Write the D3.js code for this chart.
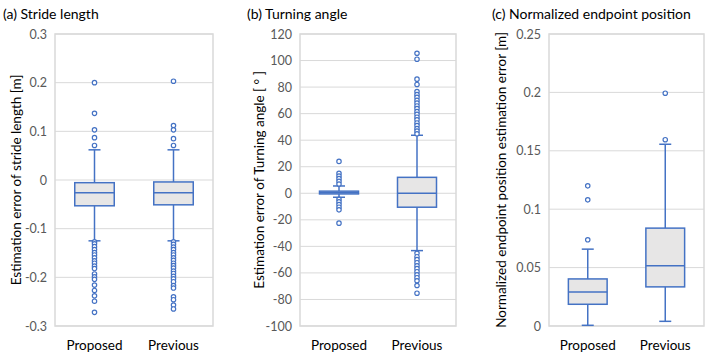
<!DOCTYPE html>
<html><head><meta charset="utf-8">
<script src="https://cdn.jsdelivr.net/npm/d3@7"></script>
<style>body{margin:0;background:#fff}svg{display:block;font-family:Lato,"Open Sans",sans-serif}</style>
</head><body><svg id="c" width="708" height="359"></svg>
<script>
const categories = ["Proposed", "Previous"];

// Panel (a) stride length [m]: [whiskerLow, q1, median, q3, whiskerHigh]
const strideStats = [[-0.125, -0.053, -0.026, -0.0055, 0.062], [-0.125, -0.051, -0.026, -0.004, 0.062]];
const strideOutProposed = [0.2, 0.137, 0.103, 0.087, 0.071, -0.127, -0.131, -0.137, -0.143, -0.149, -0.154, -0.160, -0.166, -0.171, -0.177, -0.182, -0.193, -0.199, -0.204, -0.216, -0.227, -0.238, -0.249, -0.272];
const strideOutPrevious = [0.203, 0.112, 0.103, 0.085, 0.071, -0.127, -0.132, -0.138, -0.143, -0.149, -0.154, -0.160, -0.165, -0.171, -0.176, -0.181, -0.187, -0.192, -0.198, -0.203, -0.209, -0.217, -0.222, -0.240, -0.246, -0.257, -0.265];
const strideTicks = ["-0.3", "-0.2", "-0.1", "0", "0.1", "0.2", "0.3"];

// Panel (b) turning angle [deg]
const angleStats = [[-3, -0.5, 0.4, 1.6, 5.5], [-43.2, -10.5, 0, 12, 43.7]];
const angleOutProposed = [24, 15, 13, 11, 9, 7, -4.5, -6.5, -8.5, -10.5, -12.5, -22.5];
const angleOutPrevious = [105.5, 101, 86, 82, 76.6, 74.3, 72.3, 70.1, 68.0, 65.8, 63.8, 61.5, 59.5, 57.3, 55.3, 53.0, 51.0, 48.7, 46.8, 44.8, -45.2, -47.8, -50.0, -52.3, -54.6, -56.8, -59.1, -61.4, -63.6, -65.9, -69.5, -75.3];
const angleTicks = ["-100", "-80", "-60", "-40", "-20", "0", "20", "40", "60", "80", "100", "120"];

// Panel (c) normalized endpoint position error [m]
const endStats = [[0.0006, 0.0186, 0.0292, 0.0403, 0.0658], [0.004, 0.0335, 0.0515, 0.0838, 0.1556]];
const endOutProposed = [0.120, 0.108, 0.0738];
const endOutPrevious = [0.1595, 0.1993];
const endTicks = ["0", "0.05", "0.1", "0.15", "0.2", "0.25"];

const titles = ["(a) Stride length", "(b) Turning angle", "(c) Normalized endpoint position"];
const yTitles = ["Estimation error of stride length [m]", "Estimation error of Turning angle [ ° ]", "Normalized endpoint position estimation error [m]"];

const panels = [
  {title: titles[0], ytitle: yTitles[0], stats: strideStats, outs: [strideOutProposed, strideOutPrevious], ticks: strideTicks, domain: [-0.3, 0.3], x0: 55, x1: 213, tx: 3, ytx: 21},
  {title: titles[1], ytitle: yTitles[1], stats: angleStats, outs: [angleOutProposed, angleOutPrevious], ticks: angleTicks, domain: [-100, 120], x0: 300, x1: 456, tx: 247, ytx: 264},
  {title: titles[2], ytitle: yTitles[2], stats: endStats, outs: [endOutProposed, endOutPrevious], ticks: endTicks, domain: [0, 0.25], x0: 549, x1: 704, tx: 492, ytx: 506}
];

const svg = d3.select("#c");
const plotTop = 34, plotBottom = 326;
const blue = "#4472c4";

panels.forEach(p => {
  const g = svg.append("g");
  const y = d3.scaleLinear().domain(p.domain).range([plotBottom, plotTop]);
  const x = d3.scaleBand().domain(categories).range([p.x0, p.x1]).padding(0);
  const bw = x.bandwidth() * 0.5;

  g.selectAll("line.grid").data(p.ticks).join("line")
    .attr("x1", p.x0).attr("x2", p.x1)
    .attr("y1", d => y(+d)).attr("y2", d => y(+d))
    .attr("stroke", "#d9d9d9").attr("stroke-width", 1);
  g.append("rect").attr("x", p.x0).attr("y", plotTop).attr("width", p.x1 - p.x0).attr("height", plotBottom - plotTop)
    .attr("fill", "none").attr("stroke", "#d9d9d9").attr("stroke-width", 1.5);

  const ax = d3.axisLeft(y).tickValues(p.ticks.map(Number)).tickFormat((d, i) => p.ticks[i]).tickSize(0).tickPadding(8);
  const axg = g.append("g").attr("transform", `translate(${p.x0},0)`).call(ax);
  axg.select(".domain").remove();
  axg.selectAll("text").attr("fill", "#595959").style("font-size", "12.5px").style("font-family", "Lato");

  const xa = d3.axisBottom(x).tickSize(0).tickPadding(14);
  const xg = g.append("g").attr("transform", `translate(0,${plotBottom})`).call(xa);
  xg.select(".domain").remove();
  xg.selectAll("text").attr("fill", "#000").style("font-size", "13.5px").style("font-family", "Lato");

  g.append("text").attr("x", p.tx).attr("y", 19).text(p.title).style("font-size", "14px").attr("fill", "#000");
  g.append("text").attr("transform", `translate(${p.ytx},${(plotTop + plotBottom) / 2}) rotate(-90)`)
    .attr("text-anchor", "middle").text(p.ytitle).style("font-size", "13.5px").attr("fill", "#000");

  categories.forEach((c, i) => {
    const s = p.stats[i];
    const cx = x(c) + x.bandwidth() / 2;
    const bg = g.append("g");
    bg.append("line").attr("x1", cx).attr("x2", cx).attr("y1", y(s[0])).attr("y2", y(s[1])).attr("stroke", blue).attr("stroke-width", 1.5);
    bg.append("line").attr("x1", cx).attr("x2", cx).attr("y1", y(s[3])).attr("y2", y(s[4])).attr("stroke", blue).attr("stroke-width", 1.5);
    [s[0], s[4]].forEach(v => bg.append("line").attr("x1", cx - 6).attr("x2", cx + 6).attr("y1", y(v)).attr("y2", y(v)).attr("stroke", blue).attr("stroke-width", 1.5));
    bg.append("rect").attr("x", cx - bw / 2).attr("width", bw).attr("y", y(s[3])).attr("height", y(s[1]) - y(s[3]))
      .attr("fill", "#e7e6e6").attr("stroke", blue).attr("stroke-width", 1.5);
    bg.append("line").attr("x1", cx - bw / 2).attr("x2", cx + bw / 2).attr("y1", y(s[2])).attr("y2", y(s[2])).attr("stroke", blue).attr("stroke-width", 1.5);
    bg.selectAll("circle").data(p.outs[i]).join("circle")
      .attr("cx", cx).attr("cy", d => y(d)).attr("r", 2.2)
      .attr("fill", "#fff").attr("stroke", blue).attr("stroke-width", 1.2);
  });
});
</script></body></html>
